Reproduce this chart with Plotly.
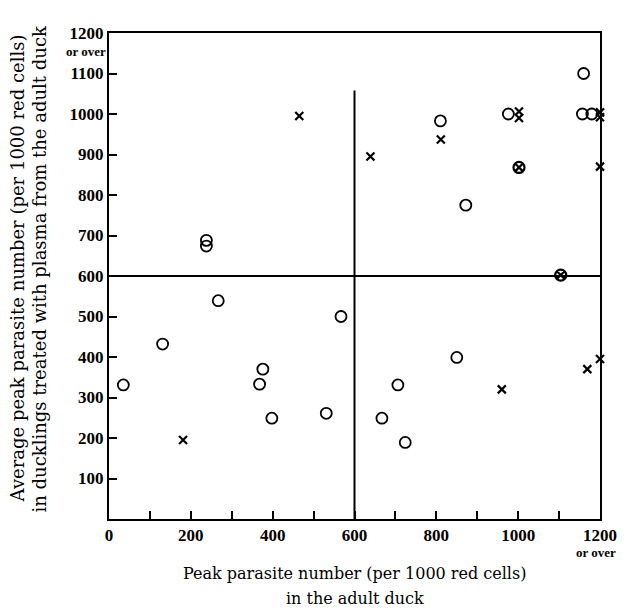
import plotly.graph_objects as go

# Open circles
circle_x = [35, 131, 238, 238, 267, 368, 376, 398, 531, 567, 667, 706, 724, 810, 850, 872, 976, 1157, 1180, 1160]
circle_y = [331, 432, 688, 674, 539, 333, 370, 249, 261, 500, 249, 331, 189, 983, 399, 775, 1000, 1000, 1000, 1100]

# Crosses
cross_x = [181, 465, 639, 811, 960, 1002, 1002, 1169, 1200, 1200, 1200, 1200]
cross_y = [195, 995, 895, 937, 320, 1006, 990, 370, 1004, 992, 870, 395]

# Circled crosses
ccross_x = [1002, 1104]
ccross_y = [868, 602]

# Reference lines
threshold = 600
vline_top = 1058

x_tickvals = list(range(0, 1300, 100))
x_ticktext = [str(v) if v % 200 == 0 else "" for v in x_tickvals]
y_tickvals = list(range(100, 1300, 100))
y_ticktext = [str(v) for v in y_tickvals]

x_title = ["Peak parasite number (per 1000 red cells)", "in the adult duck"]
y_title = ["Average peak parasite number (per 1000 red cells)",
           "in ducklings treated with plasma from the adult duck"]

FONT = "DejaVu Serif"
TICKFONT = "Liberation Serif"

fig = go.Figure()
fig.add_trace(go.Scatter(
    x=circle_x, y=circle_y, mode="markers",
    marker=dict(symbol="circle-open", size=11, color="black", line=dict(width=1.8)),
    cliponaxis=False, showlegend=False))
fig.add_trace(go.Scatter(
    x=cross_x, y=cross_y, mode="markers",
    marker=dict(symbol="x-thin-open", size=8, color="black", line=dict(width=2.2)),
    cliponaxis=False, showlegend=False))
fig.add_trace(go.Scatter(
    x=ccross_x, y=ccross_y, mode="markers",
    marker=dict(symbol="circle-x-open", size=11, color="black", line=dict(width=2.2)),
    cliponaxis=False, showlegend=False))

fig.add_shape(type="line", x0=0, x1=1200, y0=threshold, y1=threshold,
              line=dict(color="black", width=2), layer="below")
fig.add_shape(type="line", x0=threshold, x1=threshold, y0=0, y1=vline_top,
              line=dict(color="black", width=2), layer="below")

fig.add_annotation(x=1200, y=0, xref="x", yref="y", text="<b>or over</b>", showarrow=False,
                   yshift=-33, xshift=-4, font=dict(family=TICKFONT, size=13, color="black"))
fig.add_annotation(x=0, y=1200, xref="paper", yref="y", text="<b>or over</b>", showarrow=False,
                   xanchor="right", yshift=-18, xshift=-1,
                   font=dict(family=TICKFONT, size=13, color="black"))

# axis titles
for txt, py in zip(x_title, [-0.113, -0.163]):
    fig.add_annotation(x=0.5, y=py, xref="paper", yref="paper", text=txt, showarrow=False,
                       xanchor="center", yanchor="middle",
                       font=dict(family=FONT, size=16, color="black"))
for txt, px in zip(y_title, [-0.186, -0.141]):
    fig.add_annotation(x=px, y=0.515, xref="paper", yref="paper", text=txt, showarrow=False,
                       textangle=-90, xanchor="center", yanchor="middle",
                       font=dict(family=FONT, size=18, color="black"))

fig.update_xaxes(range=[0, 1200], tickvals=x_tickvals, ticktext=x_ticktext,
                 ticks="inside", ticklen=8, tickwidth=1.5, tickcolor="black",
                 showline=True, linecolor="black", linewidth=2, mirror=True,
                 showgrid=False, zeroline=False,
                 tickfont=dict(family=TICKFONT, size=17, color="black", weight="bold"))
fig.update_yaxes(range=[0, 1200], tickvals=y_tickvals, ticktext=y_ticktext,
                 ticks="inside", ticklen=8, tickwidth=1.5, tickcolor="black",
                 showline=True, linecolor="black", linewidth=2, mirror=True,
                 showgrid=False, zeroline=False,
                 tickfont=dict(family=TICKFONT, size=17, color="black", weight="bold"))

fig.update_layout(width=629, height=608, plot_bgcolor="white", paper_bgcolor="white",
                  margin=dict(l=109, r=26, t=33, b=89), showlegend=False)

fig.write_html("out.html", config={"displayModeBar": False},
               post_script="document.body.style.margin='0';")
